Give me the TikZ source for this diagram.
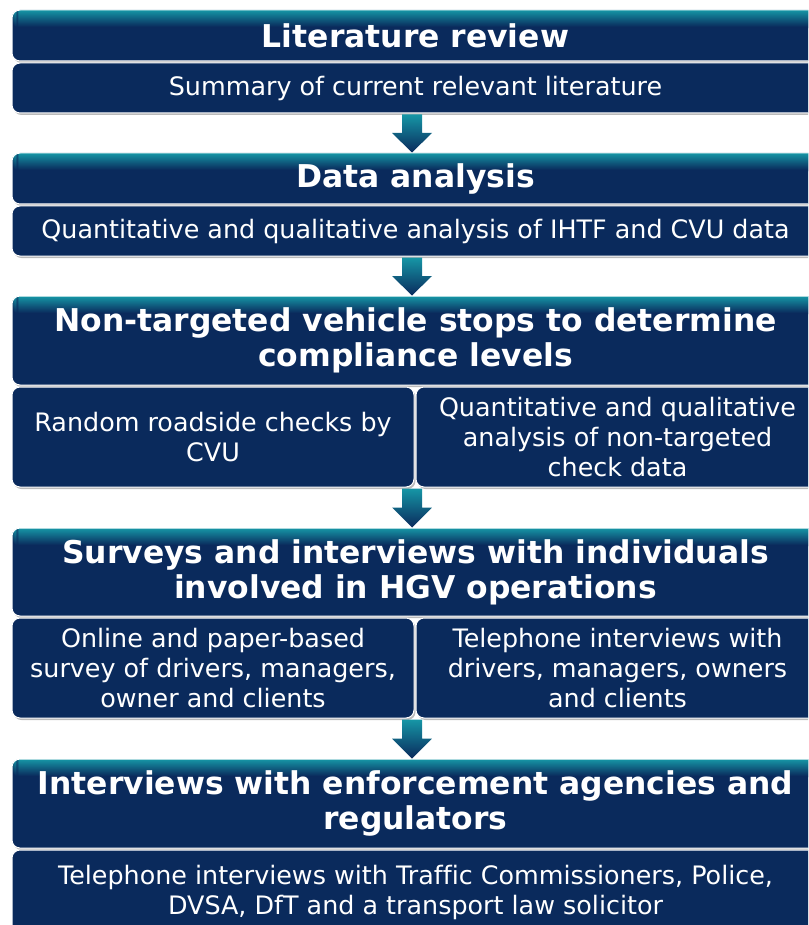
\documentclass[tikz,border=0pt]{standalone}
\usepackage{fontspec}
\setmainfont[Ligatures={NoCommon}]{DejaVu Sans}
\usetikzlibrary{shadows,calc}
\definecolor{navy}{RGB}{10,42,92}
\definecolor{tealc}{RGB}{22,150,166}
\tikzset{
  box/.style={draw=white, line width=1pt, fill=navy, rounded corners=8pt,
    text=white, align=center, inner sep=0pt,
    drop shadow={shadow xshift=1.5pt, shadow yshift=-2pt, opacity=0.45, fill=black!60}},
  hdrbox/.style={box, font=\fontsize{31.4}{35}\selectfont\bfseries,
    path picture={\foreach \i in {0,...,17}{
      \pgfmathsetmacro\pc{100*\i/17}
      \fill[navy!\pc!tealc] ([yshift=-\i pt]path picture bounding box.north west)
        rectangle ([yshift=-\i pt - 1.3pt]path picture bounding box.north east);}}},
  subbox/.style={box, font=\fontsize{25.4}{30}\selectfont},
  blk/.style={top color=tealc, bottom color=navy}
}
\newcommand\blkarrow[2]{%
  \shade[blk] let \p1=(#1.south), \p2=(#2.north) in
    (402pt,\y1-1pt) -- (422pt,\y1-1pt) -- (422pt,{0.5*\y1+0.5*\y2}) --
    (432pt,{0.5*\y1+0.5*\y2}) -- (412pt,\y2) -- (392pt,{0.5*\y1+0.5*\y2}) --
    (402pt,{0.5*\y1+0.5*\y2}) -- cycle;}
\begin{document}
\begin{tikzpicture}[x=1pt,y=-1pt]
\useasboundingbox (0,0) rectangle (808,925);
\clip (0,0) rectangle (808,925);
% block 1
\node[hdrbox, minimum width=807, minimum height=51] (h1) at (415.5,35.5) {Literature review};
\node[subbox, minimum width=807, minimum height=50] (s1) at (415.5,88) {Summary of current relevant literature};
% block 2
\node[hdrbox, minimum width=807, minimum height=51] (h2) at (415.5,178.5) {Data analysis};
\node[subbox, minimum width=807, minimum height=50] (s2) at (415.5,231) {Quantitative and qualitative analysis of IHTF and CVU data};
% block 3
\node[hdrbox, minimum width=807, minimum height=89] (h3) at (415.5,340.5) {Non-targeted vehicle stops to determine\\compliance levels};
\node[subbox, minimum width=402, minimum height=100] (s3a) at (213,437) {Random roadside checks by\\CVU};
\node[subbox, minimum width=403, minimum height=100] (s3b) at (617.5,437) {Quantitative and qualitative\\analysis of non-targeted\\check data};
% block 4
\node[hdrbox, minimum width=807, minimum height=88] (h4) at (415.5,572) {Surveys and interviews with individuals\\involved in HGV operations};
\node[subbox, minimum width=402, minimum height=100] (s4a) at (213,668) {Online and paper-based\\survey of drivers, managers,\\owner and clients};
\node[subbox, minimum width=403, minimum height=100] (s4b) at (617.5,668) {Telephone interviews with\\drivers, managers, owners\\and clients};
% block 5
\node[hdrbox, minimum width=807, minimum height=89] (h5) at (415.5,803.5) {Interviews with enforcement agencies and\\regulators};
\node[subbox, minimum width=807, minimum height=85] (s5) at (415.5,892.5) {Telephone interviews with Traffic Commissioners, Police,\\DVSA, DfT and a transport law solicitor};
% arrows
\blkarrow{s1}{h2}
\blkarrow{s2}{h3}
\blkarrow{s3a}{h4}
\blkarrow{s4a}{h5}
\end{tikzpicture}
\end{document}
